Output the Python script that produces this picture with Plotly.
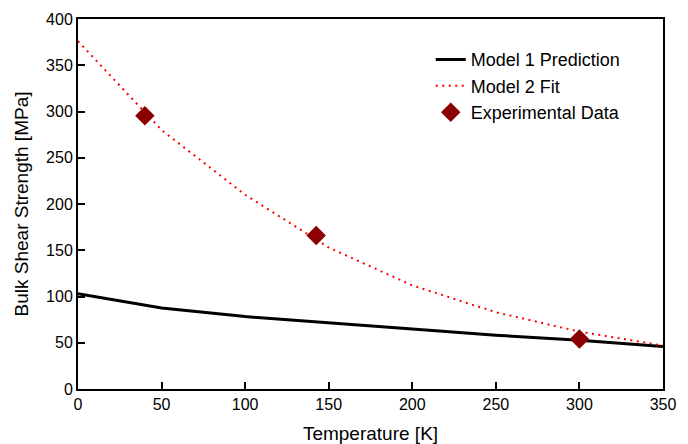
import plotly.graph_objects as go

# Temperature grid (K) for the two model curves
temperature = [0, 50, 100, 150, 200, 250, 300, 350]
model1_prediction = [103, 87.5, 78.3, 71.2, 64.8, 58.2, 52.8, 46]
model2_fit = [376, 280, 210, 153, 112, 83, 62, 47]

# Measured bulk shear strength
exp_temperature = [40, 142.5, 300]
exp_strength = [295.5, 166, 54]

FONT = "Arial, Liberation Sans, sans-serif"

fig = go.Figure()
fig.add_trace(go.Scatter(
    x=temperature, y=model1_prediction, mode="lines",
    name="Model 1 Prediction",
    line=dict(color="black", width=3),
))
fig.add_trace(go.Scatter(
    x=temperature, y=model2_fit, mode="lines",
    name="Model 2 Fit",
    line=dict(color="#ff0000", width=2, dash="2px,4.5px"),
))
fig.add_trace(go.Scatter(
    x=exp_temperature, y=exp_strength, mode="markers",
    name="Experimental Data",
    marker=dict(symbol="diamond", size=15, color="#8b0000"),
))

axis_common = dict(
    showline=True, linecolor="black", linewidth=2, mirror=True,
    ticks="inside", ticklen=7, tickwidth=1.5, tickcolor="black",
    showgrid=False, zeroline=False, automargin=False,
    tickfont=dict(family=FONT, size=16, color="black"),
)

fig.update_layout(
    width=688, height=444,
    margin=dict(l=78, r=25, t=19, b=55),
    paper_bgcolor="white", plot_bgcolor="white",
    font=dict(family=FONT, color="black"),
    showlegend=True,
    legend=dict(
        x=0.603, y=0.94, xanchor="left", yanchor="top",
        bgcolor="rgba(0,0,0,0)", borderwidth=0,
        font=dict(family=FONT, size=18, color="black"),
        tracegroupgap=0,
    ),
    xaxis=dict(
        range=[0, 350], tickvals=[0, 50, 100, 150, 200, 250, 300, 350],
        title=dict(text="Temperature [K]", font=dict(family=FONT, size=19), standoff=14),
        **axis_common,
    ),
    yaxis=dict(
        range=[0, 400], tickvals=[0, 50, 100, 150, 200, 250, 300, 350, 400],
        title=dict(text="Bulk Shear Strength [MPa]", font=dict(family=FONT, size=19), standoff=12),
        **axis_common,
    ),
)

fig.write_html("out.html")
